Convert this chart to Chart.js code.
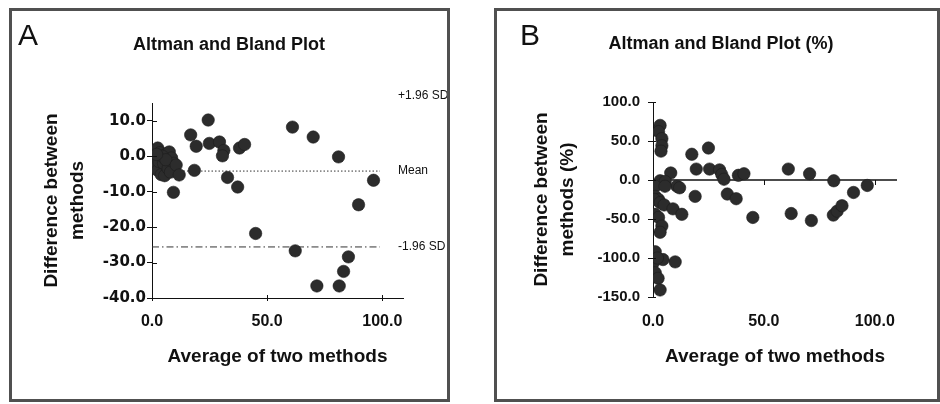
<!DOCTYPE html>
<html>
<head>
<meta charset="utf-8">
<script src="https://cdn.jsdelivr.net/npm/chart.js@4.4.1/dist/chart.umd.min.js"></script>
<style>
  html, body { margin: 0; padding: 0; background: #fff; }
  body { width: 940px; height: 404px; position: relative; overflow: hidden; }
  .panel { position: absolute; border: 3px solid #505050; background: #fff; }
  #panelA { left: 9px; top: 8px; width: 435px; height: 388px; }
  #panelB { left: 494px; top: 8px; width: 440px; height: 388px; }
  canvas { display: block; }
</style>
</head>
<body>
<div class="panel" id="panelA"><canvas id="chartA" width="435" height="388"></canvas></div>
<div class="panel" id="panelB"><canvas id="chartB" width="440" height="388"></canvas></div>
<script>
// --- Panel A: absolute differences ---
const avgA = [0.5, 1.5, 2.5, 3.5, 1.0, 2.5, 4.0, 5.5, 3.0, 5.0, 6.5, 7.5, 8.5, 9.5, 7.0, 8.0, 4.5, 6.0, 2.0, 10.5, 11.8, 9.3,
  18.4, 16.8, 19.2, 24.4, 24.9, 29.3, 31.2, 30.6, 32.8, 37.2, 38.0, 40.2, 45.0,
  61.0, 70.0, 81.0, 96.2, 89.7, 62.2, 85.3, 83.2, 81.3, 71.6];
const diffA = [-0.5, 1.5, 2.3, 1.0, -2.5, -4.0, -5.2, -5.5, -1.5, -2.0, 0.8, 1.2, -0.5, -2.0, -3.5, -4.5, 0.0, -1.0, 0.5, -2.5, -5.3, -10.2,
  -4.0, 6.0, 2.8, 10.2, 3.6, 4.0, 1.6, 0.1, -6.0, -8.7, 2.3, 3.3, -21.8,
  8.2, 5.4, -0.2, -6.8, -13.7, -26.7, -28.4, -32.5, -36.6, -36.6];
const meanDiff = -4.2;
const lowerLimit = -25.6;
const upperLimit = 17.2;
const limitLineStart = 0;
const limitLineEnd = 99;

// --- Panel B: percentage differences ---
const avgB = [3.2, 2.5, 4.0, 4.0, 3.6, 8.0, 10.8, 12.0, 3.2, 5.5, 1.0, 1.0, 5.4, 2.5, 0.5,
  3.2, 5.0, 9.0, 13.0, 1.0, 2.5, 4.0, 3.2, 1.0, 4.5, 10.0, 0.2, 2.0, 1.0, 2.3, 3.2,
  17.5, 25.0, 19.5, 25.5, 30.0, 31.0, 32.0, 33.5, 37.5, 38.5, 41.0, 45.0, 19.0,
  61.0, 62.3, 70.6, 71.4, 81.5, 81.3, 83.0, 85.2, 90.4, 96.6];
const diffB = [70, 62, 53, 44, 37, 9, -8, -10, -1, -2, -8, -21, -8, -25, -25,
  -29, -32, -37, -44, -44, -48, -59, -67, -92, -102, -105, -106, -100, -119, -126, -141,
  33, 41, 14, 14, 13, 7, 1, -18, -24, 6, 8, -48, -21,
  14, -43, 8, -52, -1, -45, -40, -33, -16, -7];

const xTicksLabel = v => v.toFixed(1);
const fontSans = '"Liberation Sans", Arial, sans-serif';
const ink = '#111';
const dotFill = '#2c2c2c';

const toPoints = (xs, ys) => xs.map((x, i) => ({ x: x, y: ys[i] }));

const panelText = {
  id: 'panelText',
  afterDraw(chart, args, o) {
    const { ctx, chartArea, scales } = chart;
    const xs = scales.x, ys = scales.y;
    ctx.save();
    ctx.fillStyle = ink;
    ctx.textBaseline = 'alphabetic';
    ctx.textAlign = 'left';
    ctx.font = '30px ' + fontSans;
    ctx.fillText(o.letter, o.letterX, o.letterY);
    ctx.textAlign = 'center';
    ctx.font = 'bold 18px ' + fontSans;
    ctx.fillText(o.title, o.titleX, o.titleY);

    // tick marks crossing into the plot
    ctx.strokeStyle = ink;
    ctx.lineWidth = 1;
    ys.ticks.forEach(t => {
      const py = Math.round(ys.getPixelForValue(t.value)) + 0.5;
      ctx.beginPath();
      ctx.moveTo(chartArea.left, py);
      ctx.lineTo(chartArea.left + o.innerTick, py);
      ctx.stroke();
    });
    if (o.zeroTicks) {
      const py = ys.getPixelForValue(0);
      xs.ticks.forEach(t => {
        if (t.value <= 0) return;
        const px = Math.round(xs.getPixelForValue(t.value)) + 0.5;
        ctx.beginPath();
        ctx.moveTo(px, py);
        ctx.lineTo(px, py + 5);
        ctx.stroke();
      });
    } else {
      xs.ticks.forEach(t => {
        if (t.value <= 0) return;
        const px = Math.round(xs.getPixelForValue(t.value)) + 0.5;
        ctx.beginPath();
        ctx.moveTo(px, chartArea.bottom);
        ctx.lineTo(px, chartArea.bottom - 3);
        ctx.stroke();
      });
    }

    // limit labels
    if (o.limits) {
      ctx.font = '12px ' + fontSans;
      ctx.textAlign = 'left';
      ctx.textBaseline = 'middle';
      o.limits.forEach(l => {
        ctx.fillText(l.label, chartArea.right - 5, ys.getPixelForValue(l.value));
      });
    }
    ctx.restore();
  }
};

function axisTitleFont() {
  return { family: fontSans, size: 19, weight: 'bold', lineHeight: 1.37 };
}

// --- Chart A ---
new Chart(document.getElementById('chartA'), {
  type: 'scatter',
  data: {
    datasets: [
      {
        data: toPoints(avgA, diffA),
        backgroundColor: dotFill, borderColor: '#1c1c1c', borderWidth: 0.6,
        pointRadius: 6.2, order: 0
      },
      {
        type: 'line',
        data: [{ x: limitLineStart, y: meanDiff }, { x: limitLineEnd, y: meanDiff }],
        borderColor: '#333', borderWidth: 1, borderDash: [1.5, 2], pointRadius: 0, order: 1
      },
      {
        type: 'line',
        data: [{ x: limitLineStart, y: lowerLimit }, { x: limitLineEnd, y: lowerLimit }],
        borderColor: '#333', borderWidth: 1, borderDash: [7, 3, 1.5, 3], pointRadius: 0, order: 1
      }
    ]
  },
  options: {
    responsive: false,
    animation: false,
    events: [],
    layout: { padding: { left: 0, right: 44, top: 92, bottom: 0 } },
    scales: {
      x: {
        type: 'linear', min: 0, max: 109,
        afterFit: s => { s.height = 101; },
        border: { color: ink, width: 1 },
        grid: { drawOnChartArea: false, drawTicks: true, tickLength: 3, color: ink },
        ticks: {
          stepSize: 50, includeBounds: false, padding: 11, color: ink,
          font: { family: fontSans, size: 16, weight: 'bold' },
          callback: xTicksLabel
        },
        title: {
          display: true, text: 'Average of two methods', color: ink,
          font: { family: fontSans, size: 19, weight: 'bold' },
          padding: { top: 0, bottom: 31 }
        }
      },
      y: {
        type: 'linear', min: -40, max: 15,
        afterFit: s => { s.width = 140; },
        border: { color: ink, width: 1 },
        grid: { drawOnChartArea: false, drawTicks: true, tickLength: 5, color: ink },
        ticks: {
          stepSize: 10, includeBounds: false, padding: 1, color: ink,
          font: { family: '"DejaVu Sans", sans-serif', size: 15, weight: 'bold' },
          callback: xTicksLabel
        },
        title: {
          display: true, text: ['Difference between', 'methods'], color: ink,
          font: axisTitleFont(),
          padding: { top: 27, bottom: 0 }
        }
      }
    },
    plugins: {
      legend: { display: false },
      tooltip: { enabled: false },
      panelText: {
        letter: 'A', letterX: 6, letterY: 34,
        title: 'Altman and Bland Plot', titleX: 217, titleY: 39,
        innerTick: 5,
        limits: [
          { label: '+1.96 SD', value: upperLimit },
          { label: 'Mean', value: meanDiff },
          { label: '-1.96 SD', value: lowerLimit }
        ]
      }
    }
  },
  plugins: [panelText]
});

// --- Chart B ---
new Chart(document.getElementById('chartB'), {
  type: 'scatter',
  data: {
    datasets: [
      {
        data: toPoints(avgB, diffB),
        backgroundColor: dotFill, borderColor: '#1c1c1c', borderWidth: 0.6,
        pointRadius: 6.2, order: 0
      },
      {
        type: 'line',
        data: [{ x: 0, y: 0 }, { x: 110, y: 0 }],
        borderColor: ink, borderWidth: 1.5, pointRadius: 0, order: 1
      }
    ]
  },
  options: {
    responsive: false,
    animation: false,
    events: [],
    layout: { padding: { left: 0, right: 40, top: 91, bottom: 0 } },
    scales: {
      x: {
        type: 'linear', min: 0, max: 110,
        afterFit: s => { s.height = 102; },
        border: { display: false },
        grid: { display: false, drawTicks: false },
        ticks: {
          stepSize: 50, includeBounds: false, padding: 15, color: ink,
          font: { family: fontSans, size: 16, weight: 'bold' },
          callback: xTicksLabel
        },
        title: {
          display: true, text: 'Average of two methods', color: ink,
          font: { family: fontSans, size: 19, weight: 'bold' },
          padding: { top: 0, bottom: 31 }
        }
      },
      y: {
        type: 'linear', min: -150, max: 100,
        afterFit: s => { s.width = 156; },
        border: { color: ink, width: 1 },
        grid: { drawOnChartArea: false, drawTicks: true, tickLength: 5, color: ink },
        ticks: {
          stepSize: 50, includeBounds: false, padding: 8, color: ink,
          font: { family: fontSans, size: 15, weight: 'bold' },
          callback: xTicksLabel
        },
        title: {
          display: true, text: ['Difference between', 'methods (%)'], color: ink,
          font: axisTitleFont(),
          padding: { top: 32, bottom: 0 }
        }
      }
    },
    plugins: {
      legend: { display: false },
      tooltip: { enabled: false },
      panelText: {
        letter: 'B', letterX: 23, letterY: 34,
        title: 'Altman and Bland Plot (%)', titleX: 224, titleY: 38,
        innerTick: 3,
        zeroTicks: true
      }
    }
  },
  plugins: [panelText]
});
</script>
</body>
</html>
